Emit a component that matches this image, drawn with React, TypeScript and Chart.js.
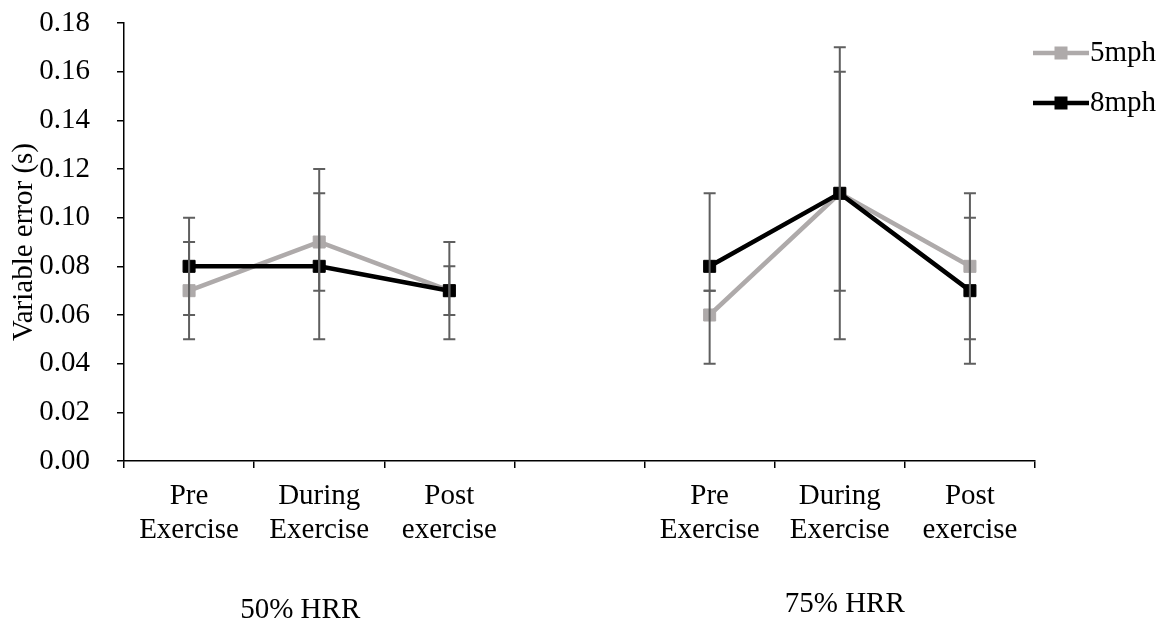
import React, { useEffect, useRef } from "react";
import { Chart, registerables } from "chart.js";

Chart.register(...registerables);

const categories: (string | string[])[] = [
  ["Pre", "Exercise"],
  ["During", "Exercise"],
  ["Post", "exercise"],
  "",
  ["Pre", "Exercise"],
  ["During", "Exercise"],
  ["Post", "exercise"],
];
const groupLabels = ["50% HRR", "75% HRR"];
const groupIndices = [[0, 1, 2], [4, 5, 6]];

const seriesNames = ["5mph", "8mph"];
const mph5 = [0.07, 0.09, 0.07, null, 0.06, 0.11, 0.08];
const mph8 = [0.08, 0.08, 0.07, null, 0.08, 0.11, 0.07];
const mph5High = [0.09, 0.12, 0.09, null, 0.07, 0.17, 0.11];
const mph5Low = [0.05, 0.07, 0.05, null, 0.04, 0.05, 0.05];
const mph8High = [0.1, 0.11, 0.08, null, 0.11, 0.16, 0.1];
const mph8Low = [0.06, 0.05, 0.06, null, 0.07, 0.07, 0.04];

const yTitle = "Variable error (s)";
const yMin = 0;
const yMax = 0.18;
const yStep = 0.02;

const FONT = "'Liberation Serif', 'Times New Roman', serif";
const FS = 29;
const colors = ["#AEAAAA", "#000000"];
const errColor = "#5f5f5f";

const highs = [mph5High, mph8High];
const lows = [mph5Low, mph8Low];

const overlay = {
  id: "overlay",
  afterDatasetsDraw(chart: any) {
    const ctx = chart.ctx;
    const y = chart.scales.y;
    ctx.save();
    ctx.strokeStyle = errColor;
    ctx.lineWidth = 2;
    for (let d = 0; d < chart.data.datasets.length; d++) {
      const meta = chart.getDatasetMeta(d);
      meta.data.forEach((pt: any, i: number) => {
        const hi = highs[d][i];
        const lo = lows[d][i];
        if (hi == null || lo == null) return;
        const x = pt.x;
        const yh = y.getPixelForValue(hi);
        const yl = y.getPixelForValue(lo);
        ctx.beginPath();
        ctx.moveTo(x, yh);
        ctx.lineTo(x, yl);
        ctx.moveTo(x - 6, yh);
        ctx.lineTo(x + 6, yh);
        ctx.moveTo(x - 6, yl);
        ctx.lineTo(x + 6, yl);
        ctx.stroke();
      });
    }
    ctx.restore();
  },
  afterDraw(chart: any) {
    const ctx = chart.ctx;
    const area = chart.chartArea;
    const xs = chart.scales.x;
    ctx.save();
    ctx.fillStyle = "#000";
    ctx.font = `${FS}px ${FONT}`;

    // y title
    ctx.save();
    ctx.translate(24, (area.top + area.bottom) / 2);
    ctx.rotate(-Math.PI / 2);
    ctx.textAlign = "center";
    ctx.textBaseline = "middle";
    ctx.fillText(yTitle, 0, 0);
    ctx.restore();

    // group labels
    const gOff = [-19, 5];
    const gBase = [157, 151];
    ctx.textAlign = "center";
    ctx.textBaseline = "alphabetic";
    groupLabels.forEach((g, gi) => {
      const idx = groupIndices[gi];
      const cx = idx.reduce((s, i) => s + xs.getPixelForValue(i), 0) / idx.length;
      ctx.fillText(g, cx + gOff[gi], area.bottom + gBase[gi]);
    });

    // legend
    seriesNames.forEach((name, si) => {
      const ly = area.top + 30 + si * 50;
      const x0 = area.right - 2;
      ctx.strokeStyle = colors[si];
      ctx.lineWidth = 4.5;
      ctx.beginPath();
      ctx.moveTo(x0, ly);
      ctx.lineTo(x0 + 56, ly);
      ctx.stroke();
      ctx.fillStyle = colors[si];
      ctx.fillRect(x0 + 28 - 6.5, ly - 6.5, 13, 13);
      ctx.fillStyle = "#000";
      ctx.textAlign = "left";
      ctx.textBaseline = "middle";
      ctx.fillText(name, x0 + 57, ly);
    });
    ctx.restore();
  },
};

export default function App() {
  const ref = useRef<HTMLCanvasElement>(null);
  useEffect(() => {
    document.body.style.margin = "0";
    const chart = new Chart(ref.current as HTMLCanvasElement, {
      type: "line",
      data: {
        labels: categories as any,
        datasets: [
          {
            label: seriesNames[0],
            data: mph5 as any,
            borderColor: colors[0],
            backgroundColor: colors[0],
            borderWidth: 4.5,
            pointStyle: "rect",
            pointRadius: 8.5,
            pointBorderWidth: 1,
            pointBackgroundColor: colors[0],
            pointBorderColor: colors[0],
            spanGaps: false,
            order: 1,
          },
          {
            label: seriesNames[1],
            data: mph8 as any,
            borderColor: colors[1],
            backgroundColor: colors[1],
            borderWidth: 4.5,
            pointStyle: "rect",
            pointRadius: 8.5,
            pointBorderWidth: 1,
            pointBackgroundColor: colors[1],
            pointBorderColor: colors[1],
            spanGaps: false,
            order: 0,
          },
        ],
      },
      options: {
        responsive: false,
        animation: false,
        layout: { padding: { left: 0, top: 23, right: 134, bottom: 0 } },
        plugins: { legend: { display: false }, tooltip: { enabled: false } },
        scales: {
          x: {
            type: "category",
            offset: true,
            grid: {
              offset: true,
              drawOnChartArea: false,
              drawTicks: true,
              tickLength: 7,
              color: "#000",
              lineWidth: 1.5,
            },
            border: { display: true, color: "#000", width: 1.5 },
            ticks: {
              color: "#000",
              padding: 11,
              maxRotation: 0,
              autoSkip: false,
              font: { family: FONT, size: FS, lineHeight: 1.17 },
            },
            afterFit(scale: any) {
              scale.height = 164;
              scale.paddingLeft = 0;
              scale.paddingRight = 0;
            },
          },
          y: {
            min: yMin,
            max: yMax,
            grid: {
              drawOnChartArea: false,
              drawTicks: true,
              tickLength: 7,
              color: "#000",
              lineWidth: 1.5,
            },
            border: { display: true, color: "#000", width: 1.5 },
            ticks: {
              stepSize: yStep,
              color: "#000",
              padding: 27,
              font: { family: FONT, size: FS },
              callback: (v: any) => Number(v).toFixed(2),
            },
            afterFit(scale: any) {
              scale.width = 124;
              scale.paddingTop = 0;
              scale.paddingBottom = 0;
            },
          },
        },
      },
      plugins: [overlay],
    });
    return () => chart.destroy();
  }, []);
  return (
    <div style={{ position: "absolute", left: 0, top: 0, width: 1169, height: 625, background: "#fff" }}>
      <canvas ref={ref} width={1169} height={625} />
    </div>
  );
}
